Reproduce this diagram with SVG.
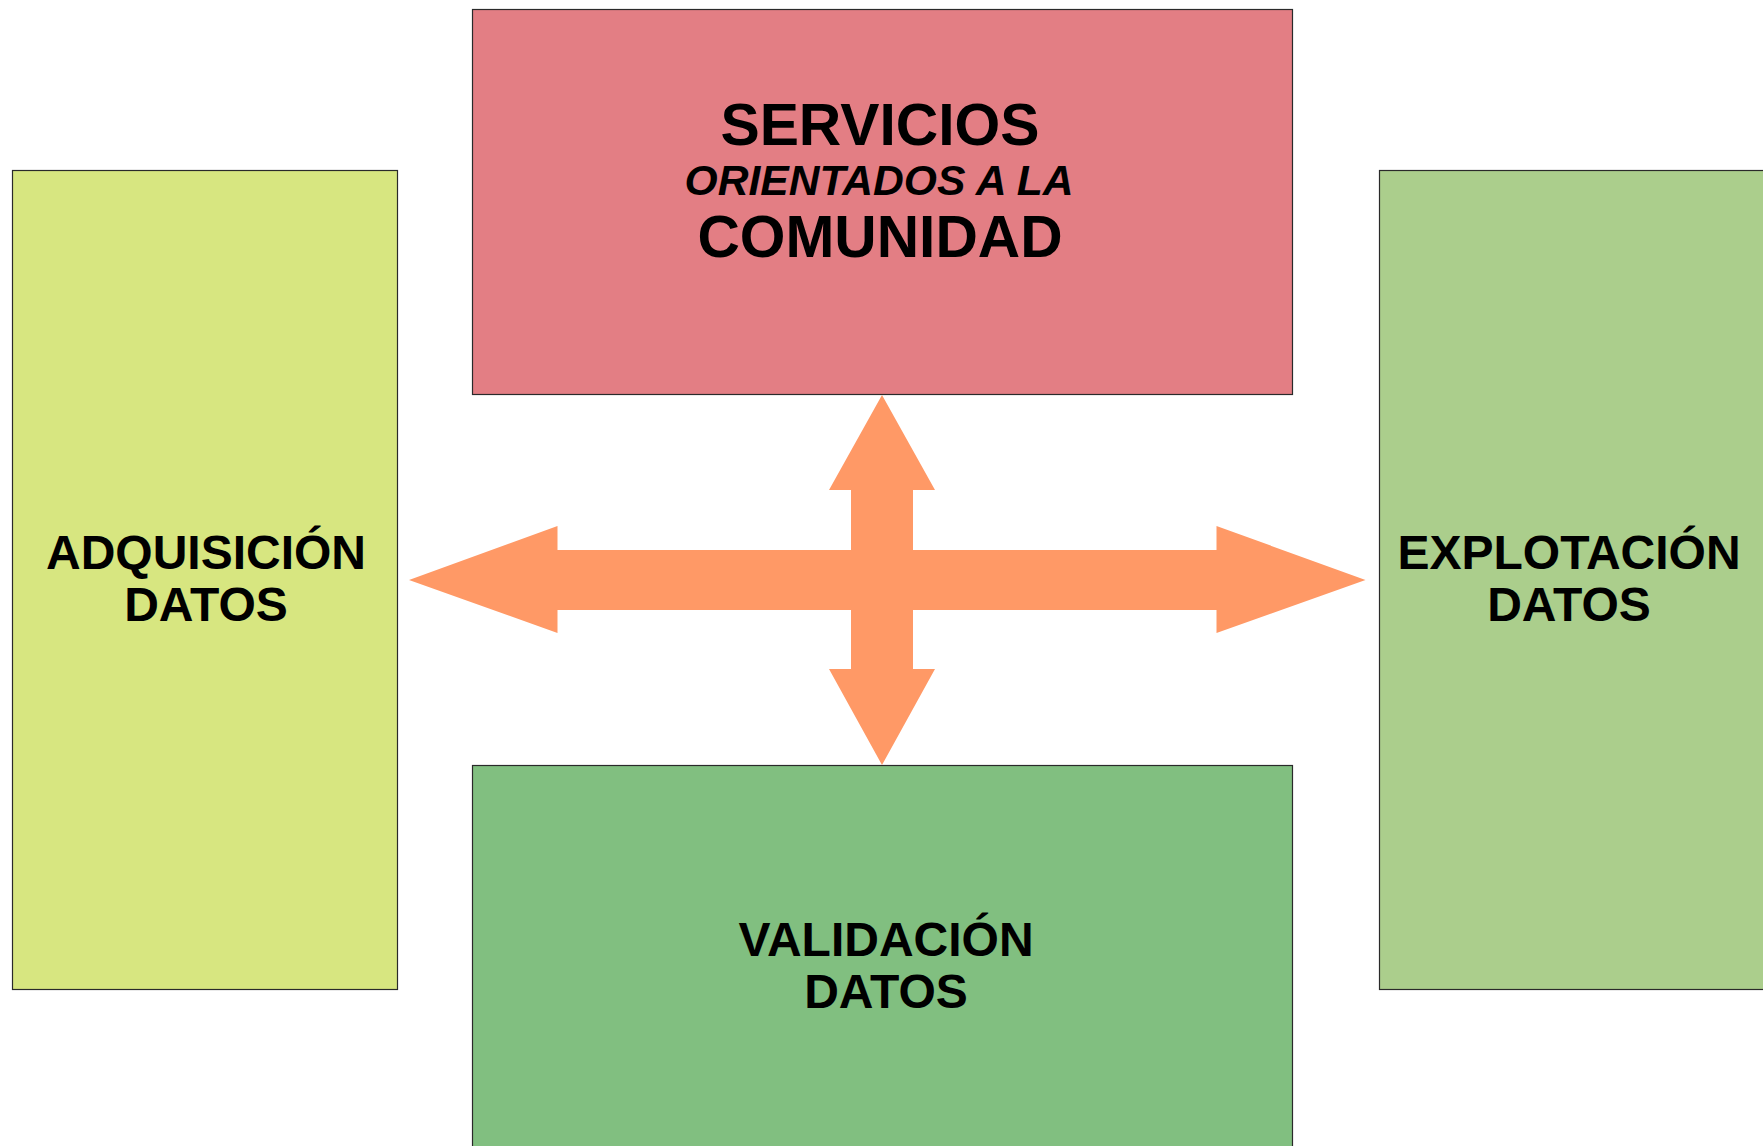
<svg xmlns="http://www.w3.org/2000/svg" width="1763" height="1146" viewBox="0 0 1763 1146">
<style>
.box{stroke:#2a2a2a;stroke-width:1.2}
.t{font-family:"Liberation Sans",Arial,sans-serif;font-weight:bold;fill:#000;text-anchor:middle}
.arrow{fill:#ff9966}
</style>
<rect width="1763" height="1146" fill="#ffffff"/>
<g id="servicios">
<rect class="box" x="472.5" y="9.5" width="820" height="385" fill="#e37e84"/>
<text class="t" x="880" y="145" font-size="58.8">SERVICIOS</text>
<text class="t" x="879" y="195" font-size="42.6" font-style="italic">ORIENTADOS A LA</text>
<text class="t" x="880" y="257" font-size="58.7">COMUNIDAD</text>
</g>
<g id="adquisicion">
<rect class="box" x="12.5" y="170.5" width="385" height="819" fill="#d7e680"/>
<text class="t" x="206" y="569" font-size="48">ADQUISICIÓN</text>
<text class="t" x="206" y="621" font-size="48">DATOS</text>
</g>
<g id="explotacion">
<rect class="box" x="1379.5" y="170.5" width="390" height="819" fill="#abce8c"/>
<text class="t" x="1569" y="569" font-size="48">EXPLOTACIÓN</text>
<text class="t" x="1569" y="621" font-size="48">DATOS</text>
</g>
<g id="validacion">
<rect class="box" x="472.5" y="765.5" width="820" height="400" fill="#81bf80"/>
<text class="t" x="886" y="956" font-size="48">VALIDACIÓN</text>
<text class="t" x="886" y="1008" font-size="48">DATOS</text>
</g>
<g id="connectors">
<polygon class="arrow" points="882,395 935,490 913,490 913,550 1216.5,550 1216.5,526 1365.5,580 1216.5,633 1216.5,610 913,610 913,669 935,669 882,765 829,669 851,669 851,610 557.5,610 557.5,633 409,580 557.5,526 557.5,550 851,550 851,490 829,490"/>
</g>
</svg>
